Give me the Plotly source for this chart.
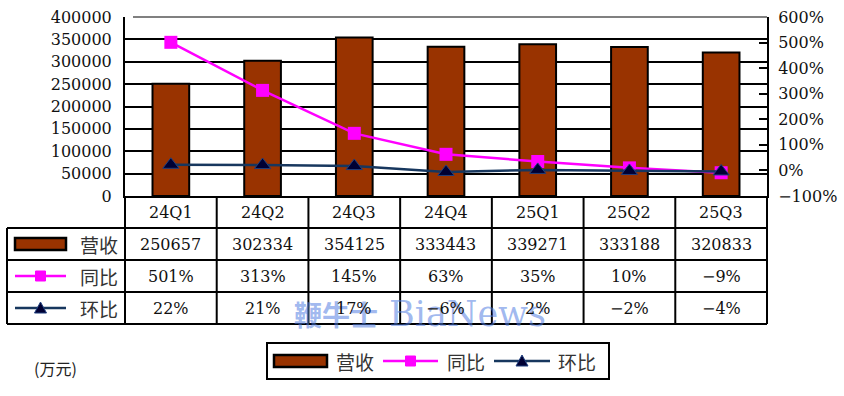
import plotly.graph_objects as go

categories = ["24Q1", "24Q2", "24Q3", "24Q4", "25Q1", "25Q2", "25Q3"]
revenue = [250657, 302334, 354125, 333443, 339271, 333188, 320833]
yoy_pct = [501, 313, 145, 63, 35, 10, -9]
qoq_pct = [22, 21, 17, -6, 2, -2, -4]
series_names = ["营收", "同比", "环比"]
left_ticks = list(range(0, 400001, 50000))
right_ticks = list(range(-100, 601, 100))
unit_label = "(万元)"

W, H = 844, 396
BAR_COLOR = "#993300"
YOY_COLOR = "#FF00FF"
QOQ_COLOR = "#17375E"
QOQ_MARKER = "#000033"
SERIF = "DejaVu Serif"
CJK = "Noto Sans CJK SC"


def X(px):
    return px / W


def Y(py):
    return 1 - py / H


PL, PR, PT, PB = 125, 767, 17, 196
ROWS = [196, 228, 260, 292, 324]
TL = 7


def fmt_pct(v):
    return ("\u2212" if v < 0 else "") + f"{abs(v)}%"


fig = go.Figure()
fig.add_trace(go.Bar(
    x=categories, y=revenue, name=series_names[0], width=0.4,
    marker=dict(color=BAR_COLOR, line=dict(color="black", width=2)),
    yaxis="y",
))
fig.add_trace(go.Scatter(
    x=categories, y=yoy_pct, name=series_names[1], mode="lines+markers",
    line=dict(color=YOY_COLOR, width=2.5),
    marker=dict(symbol="square", size=13, color=YOY_COLOR),
    yaxis="y2",
))
fig.add_trace(go.Scatter(
    x=categories, y=qoq_pct, name=series_names[2], mode="lines+markers",
    line=dict(color=QOQ_COLOR, width=2.5),
    marker=dict(symbol="triangle-up", size=14, color=QOQ_MARKER,
                line=dict(color="#1F3F7F", width=1)),
    yaxis="y2",
))

shapes = []
annotations = []


def line(x0, y0, x1, y1, color="black", width=2, layer="above"):
    shapes.append(dict(type="line", xref="paper", yref="paper",
                       x0=X(x0), y0=Y(y0), x1=X(x1), y1=Y(y1),
                       line=dict(color=color, width=width), layer=layer))


def text(px, py, t, family, size, color, **kw):
    d = dict(xref="paper", yref="paper", x=X(px), y=Y(py), text=t,
             showarrow=False, xanchor="center", yanchor="middle",
             font=dict(family=family, size=size, color=color))
    d.update(kw)
    annotations.append(d)


# top border (gray)
line(PL + 8, PT, PR, PT, color="#808080", width=2)

# table grid
n = len(categories)
cw = (PR - PL) / n
for k in range(n + 1):
    line(PL + k * cw, ROWS[0], PL + k * cw, ROWS[-1])
line(TL, ROWS[1], TL, ROWS[-1])
for r in ROWS[1:]:
    line(TL, r, PR, r)

# watermark
text(336, 314, "<b>鞭牛士</b>", CJK, 28, "rgba(80,125,225,0.55)")
text(467, 314, "BiaNews", SERIF, 35, "rgba(80,125,225,0.55)")

# table text
row_vals = [
    categories,
    [str(v) for v in revenue],
    [fmt_pct(v) for v in yoy_pct],
    [fmt_pct(v) for v in qoq_pct],
]
for ri, vals in enumerate(row_vals):
    yc = (ROWS[ri] + ROWS[ri + 1]) / 2
    for ci, t in enumerate(vals):
        text(PL + (ci + 0.5) * cw, yc, t, SERIF, 16, "#111")


def key(x0, x1, yc, kind):
    xm = (x0 + x1) / 2
    if kind == 0:
        shapes.append(dict(type="rect", xref="paper", yref="paper",
                           x0=X(x0), x1=X(x1), y0=Y(yc - 6), y1=Y(yc + 6),
                           fillcolor=BAR_COLOR, line=dict(color="black", width=2.5),
                           layer="above"))
    elif kind == 1:
        line(x0, yc, x1, yc, color=YOY_COLOR, width=2.5)
        shapes.append(dict(type="rect", xref="paper", yref="paper",
                           x0=X(xm - 5), x1=X(xm + 5), y0=Y(yc - 5), y1=Y(yc + 5),
                           fillcolor=YOY_COLOR, line=dict(color=YOY_COLOR, width=1),
                           layer="above"))
    else:
        line(x0, yc, x1, yc, color=QOQ_COLOR, width=2.5)
        path = (f"M {X(xm - 6)} {Y(yc + 5)} L {X(xm + 6)} {Y(yc + 5)} "
                f"L {X(xm)} {Y(yc - 6)} Z")
        shapes.append(dict(type="path", xref="paper", yref="paper", path=path,
                           fillcolor=QOQ_MARKER, line=dict(color="#1F3F7F", width=1),
                           layer="above"))


# table key column
for i, name in enumerate(series_names):
    yc = (ROWS[i + 1] + ROWS[i + 2]) / 2
    key(15, 66, yc, i)
    text(99, yc, name, CJK, 19, "#333")

# custom legend
shapes.append(dict(type="rect", xref="paper", yref="paper",
                   x0=X(267), x1=X(609), y0=Y(343), y1=Y(379),
                   fillcolor="rgba(0,0,0,0)", line=dict(color="black", width=2),
                   layer="above"))
leg_y = 361
leg_keys = [(274, 327), (383, 438), (494, 550)]
leg_txt = [355, 466, 577]
for i, name in enumerate(series_names):
    key(leg_keys[i][0], leg_keys[i][1], leg_y, i)
    text(leg_txt[i], leg_y, name, CJK, 19, "#333")

text(55, 368, unit_label, CJK, 16, "#222")

fig.update_layout(
    width=W, height=H, autosize=False,
    margin=dict(l=0, r=0, t=0, b=0, pad=0, autoexpand=False),
    paper_bgcolor="white", plot_bgcolor="white",
    showlegend=False,
    xaxis=dict(domain=[X(PL), X(PR)], showticklabels=False, ticks="",
               showline=True, linecolor="black", linewidth=2, automargin=False,
               showgrid=False, zeroline=False, range=[-0.5, 6.5]),
    yaxis=dict(domain=[Y(PB), Y(PT)], range=[0, 400000], tickvals=left_ticks,
               ticktext=[str(v) for v in left_ticks], automargin=False,
               showgrid=True, gridcolor="black", gridwidth=2,
               showline=True, linecolor="black", linewidth=2,
               ticks="inside", ticklen=8, tickwidth=2, tickcolor="black",
               ticklabelstandoff=8, zeroline=False,
               tickfont=dict(family=SERIF, size=16, color="#111")),
    yaxis2=dict(domain=[Y(PB), Y(PT)], range=[-100, 600], tickvals=right_ticks,
                ticktext=[fmt_pct(v) for v in right_ticks], automargin=False,
                overlaying="y", side="right", anchor="x",
                showgrid=False, showline=True, linecolor="black", linewidth=2,
                ticks="inside", ticklen=8, tickwidth=2, tickcolor="black",
                ticklabelstandoff=6, zeroline=False,
                tickfont=dict(family=SERIF, size=16, color="#111")),
    shapes=shapes,
    annotations=annotations,
)

fig.write_html("out.html")
